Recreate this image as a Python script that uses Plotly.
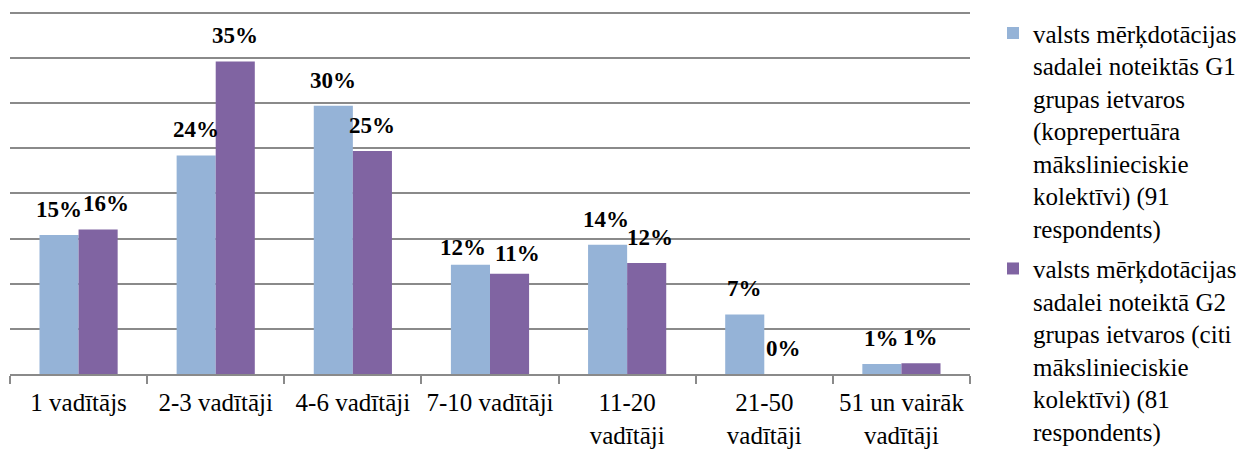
import plotly.graph_objects as go

# categories (number of leaders) and shares in %
categories = ["1 vadītājs", "2-3 vadītāji", "4-6 vadītāji", "7-10 vadītāji",
              "11-20<br>vadītāji", "21-50<br>vadītāji", "51 un vairāk<br>vadītāji"]
g1_values = [15.4, 24.2, 29.7, 12.1, 14.3, 6.6, 1.1]
g2_values = [16.0, 34.6, 24.7, 11.1, 12.3, 0.0, 1.2]
g1_name = ("valsts mērķdotācijas<br>sadalei noteiktās G1<br>grupas ietvaros<br>"
           "(koprepertuāra<br>mākslinieciskie<br>kolektīvi) (91<br>respondents)")
g2_name = ("valsts mērķdotācijas<br>sadalei noteiktā G2<br>grupas ietvaros (citi<br>"
           "mākslinieciskie<br>kolektīvi) (81<br>respondents)")

# small manual nudges of the data labels (px), like in the source chart
g1_nudge_x = [0, 0, 0, -8, -2, 0, 0]
g2_nudge_x = [8, 0, 0, 8, 3, 0, 0]
g1_nudge_y = [0, 0, 0, -8, 0, 0, 0]
g2_nudge_y = [0, 0, 0, -5, 0, 0, 0]

FONT = "Liberation Serif"
GRID = "#8a8a8a"

fig = go.Figure()
fig.add_trace(go.Bar(x=categories, y=g1_values, name=g1_name, legendgroup="g1",
                     marker=dict(color="#95B3D7", line=dict(width=0))))
fig.add_trace(go.Bar(x=categories, y=g2_values, name=g2_name, legendgroup="g2",
                     marker=dict(color="#8064A2", line=dict(width=0))))

# data labels above each bar
for vals, shift, ndx, ndy in [(g1_values, -19.5, g1_nudge_x, g1_nudge_y),
                              (g2_values, 19.5, g2_nudge_x, g2_nudge_y)]:
    for c, v, dx, dy in zip(categories, vals, ndx, ndy):
        fig.add_annotation(x=c, y=v, text=f"<b>{v:.0f}%</b>", showarrow=False,
                           xshift=shift + dx, yshift=11 + dy, yanchor="bottom",
                           font=dict(family=FONT, size=23, color="black"))

# page body adds 8px around the svg, so the figure is 8px smaller on each side
fig.update_layout(
    width=1244, height=444,
    margin=dict(l=2, r=282, t=2, b=78, autoexpand=False),
    paper_bgcolor="white", plot_bgcolor="white",
    barmode="group", bargap=0.43, bargroupgap=0,
    font=dict(family=FONT, size=25, color="black"),
    legend=dict(xref="container", x=985 / 1244, xanchor="left",
                yref="container", y=0.995, yanchor="top", maxheight=2000,
                valign="top", tracegroupgap=5,
                font=dict(family=FONT, size=25, color="black"),
                itemwidth=30, bgcolor="rgba(0,0,0,0)"),
    xaxis=dict(showline=True, linecolor=GRID, linewidth=2, ticks="outside",
               tickson="boundaries", ticklen=8, tickcolor=GRID, tickwidth=1.5,
               ticklabelstandoff=5, showgrid=False, tickangle=0, automargin=False,
               tickfont=dict(family=FONT, size=25, color="black")),
    yaxis=dict(range=[0, 40.3], dtick=5, showticklabels=False, showgrid=True,
               gridcolor=GRID, gridwidth=1.5, zeroline=False, showline=False,
               automargin=False),
)

fig.write_html("out.html")
